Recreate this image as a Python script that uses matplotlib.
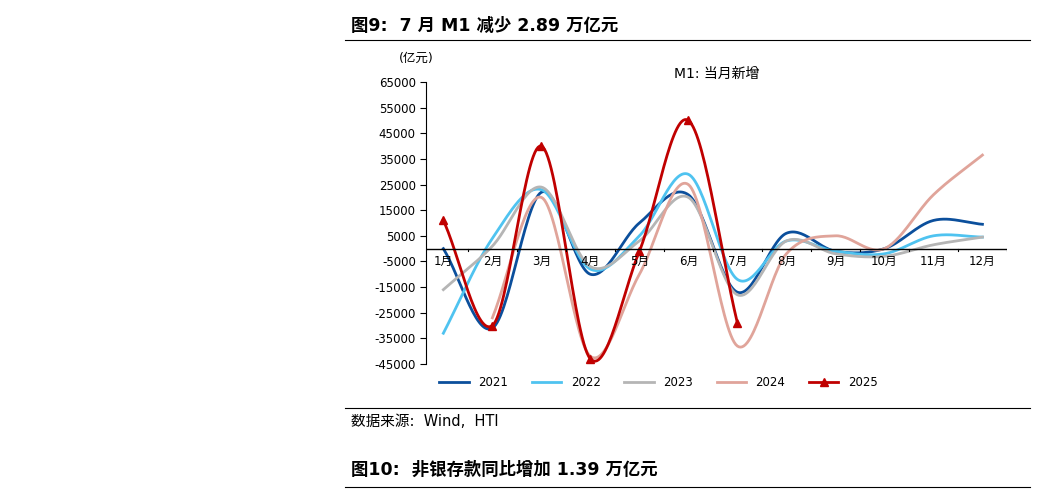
import numpy as np
import matplotlib
matplotlib.use("Agg")
import matplotlib.pyplot as plt

plt.rcParams['font.family'] = ['DejaVu Sans', 'Noto Sans CJK SC', 'Noto Sans CJK JP', 'Noto Sans CJK TC']

months = ["1月","2月","3月","4月","5月","6月","7月","8月","9月","10月","11月","12月"]
s2021 = [0, -31000, 22000, -10000, 10000, 21000, -17000, 6000, -1000, 0, 11000, 9500]
s2022 = [-33000, 4000, 23000, -8000, 5000, 29000, -12000, 3000, -1000, -2000, 5000, 4500]
s2023 = [-16000, 1000, 24000, -7000, 3000, 20000, -18000, 3000, -2000, -3000, 1500, 4500]
s2024 = [np.nan, -27000, 20000, -42000, -10000, 25000, -38000, -2000, 5000, 0, 21000, 36500]
s2025 = [11000, -30000, 40000, -43000, -1000, 50000, -29000]
yticks = list(range(-45000, 65001, 10000))

def smooth(xs, ys, n=30):
    xs = np.asarray(xs, float); ys = np.asarray(ys, float)
    m = ~np.isnan(ys); xs, ys = xs[m], ys[m]
    px = np.concatenate([[2*xs[0]-xs[1]], xs, [2*xs[-1]-xs[-2]]])
    py = np.concatenate([[2*ys[0]-ys[1]], ys, [2*ys[-1]-ys[-2]]])
    ox, oy = [], []
    for i in range(1, len(px)-2):
        t = np.linspace(0, 1, n, endpoint=False)
        for arr, out in ((px, ox), (py, oy)):
            p0, p1, p2, p3 = arr[i-1], arr[i], arr[i+1], arr[i+2]
            out.extend(0.5*((2*p1) + (-p0+p2)*t + (2*p0-5*p1+4*p2-p3)*t**2 + (-p0+3*p1-3*p2+p3)*t**3))
    ox.append(xs[-1]); oy.append(ys[-1])
    return np.array(ox), np.array(oy)

fig = plt.figure(figsize=(10.37, 5.0), dpi=100)
fig.text(0.338, 0.948, "图9:  7 月 M1 减少 2.89 万亿元", fontsize=12.5, fontweight='bold', va='center')
fig.add_artist(plt.Line2D([0.333, 0.993], [0.921, 0.921], color='black', lw=0.8))
fig.add_artist(plt.Line2D([0.333, 0.993], [0.184, 0.184], color='black', lw=0.8))
fig.text(0.338, 0.157, "数据来源:  Wind,  HTI", fontsize=10.5, va='center')
fig.text(0.338, 0.06, "图10:  非银存款同比增加 1.39 万亿元", fontsize=12.5, fontweight='bold', va='center')
fig.add_artist(plt.Line2D([0.333, 0.993], [0.027, 0.027], color='black', lw=0.8))

ax = fig.add_axes([0.411, 0.272, 0.56, 0.564])
x = np.arange(12)
styles = [(s2021, "#0B4F9C", "2021"), (s2022, "#4FC3F0", "2022"),
          (s2023, "#B5B5B5", "2023"), (s2024, "#E0A49A", "2024")]
for data, c, lab in styles:
    sx, sy = smooth(x, data)
    ax.plot(sx, sy, color=c, lw=2, label=lab)
sx, sy = smooth(np.arange(len(s2025)), s2025)
ax.plot(sx, sy, color="#C00000", lw=2)
ax.plot(np.arange(len(s2025)), s2025, ls='none', marker='^', color="#C00000", ms=6)
ax.plot([], [], color="#C00000", lw=2, marker='^', ms=6, label="2025")

ax.set_xlim(-0.35, 11.5)
ax.set_ylim(-45000, 65000)
ax.set_yticks(yticks)
ax.set_yticklabels([str(v) for v in yticks], fontsize=8.5)
ax.set_xticks([])
for i, m in enumerate(months):
    ax.text(i, -2500, m, ha='center', va='top', fontsize=8.5)
ax.axhline(0, color='black', lw=1)
for i in range(12):
    ax.plot([i+0.5, i+0.5], [0, -1000], color='black', lw=0.8)
for s in ['top', 'right', 'bottom']:
    ax.spines[s].set_visible(False)
ax.tick_params(axis='y', length=4)
ax.text(0.5, 1.015, "M1: 当月新增", transform=ax.transAxes, ha='center', fontsize=10)
fig.text(0.385, 0.877, "(亿元)", fontsize=9)
ax.legend(loc='upper center', bbox_to_anchor=(0.4, -0.005), ncol=5, frameon=False, fontsize=8.5, handlelength=2.5)
fig.savefig("out.png", dpi=100)
